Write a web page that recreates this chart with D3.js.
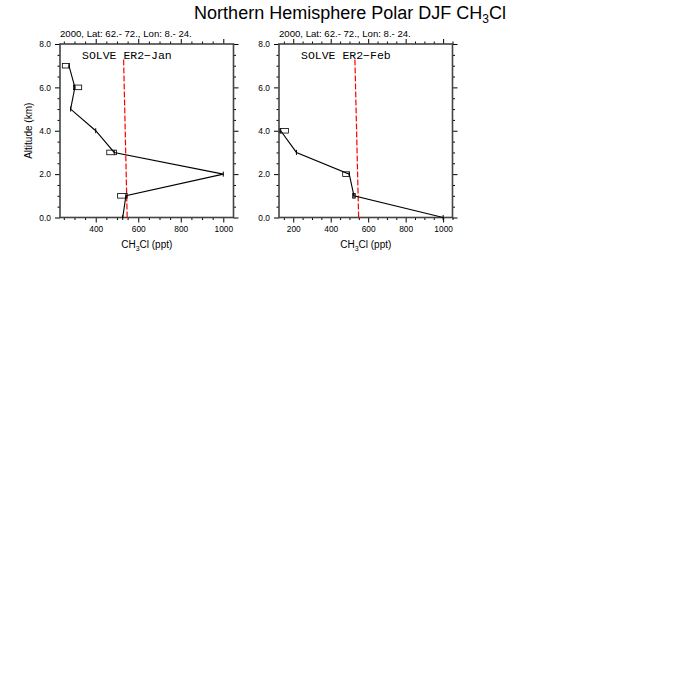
<!DOCTYPE html>
<html>
<head>
<meta charset="utf-8">
<script src="https://cdn.jsdelivr.net/npm/d3@7"></script>
<style>
  html, body { margin: 0; padding: 0; background: #fff; }
  svg { display: block; }
  text { font-family: "Liberation Sans", Helvetica, Arial, sans-serif; fill: #000; }
</style>
</head>
<body>
<svg id="chart" width="700" height="700"></svg>
<script>
// ---------- data ----------
const chartTitle = "Northern Hemisphere Polar DJF CH";
const subTitle = "2000, Lat: 62.- 72., Lon: 8.- 24.";
const panelNames = ["SOLVE ER2\u2212Jan", "SOLVE ER2\u2212Feb"];

// observed mean profiles (altitude km, CH3Cl ppt)
const janAlt  = [0, 1, 2, 3, 4, 5, 6, 7];
const janMean = [527, 542, 1000, 487, 400, 282, 302, 274];
const febAlt  = [0, 1, 2, 3, 4];
const febMean = [1000, 524, 499, 217, 133];

// box ranges
const janBoxAlt = [1, 3, 6, 7];
const janBoxLo  = [503, 452, 295, 243];
const janBoxHi  = [548, 498, 334, 276];
const febBoxAlt = [1, 2, 4];
const febBoxLo  = [517, 464, 129];
const febBoxHi  = [531, 499, 174];

// model profiles (red dashed)
const modelAlt = [0, 7.34];
const janModel = [548, 531];
const febModel = [549, 529];

// axes
const janXDomain = [232, 1048];
const febXDomain = [124, 1050];
const janXTicks = [400, 600, 800, 1000];
const febXTicks = [200, 400, 600, 800, 1000];
const yDomain = [0, 8];
const yTicks = [0, 2, 4, 6, 8];

// ---------- drawing ----------
const svg = d3.select("#chart");

// main title with subscript
const t = svg.append("text")
  .attr("x", 350).attr("y", 19)
  .attr("text-anchor", "middle")
  .style("font-size", "18px");
t.append("tspan").text(chartTitle);
t.append("tspan").attr("dy", 4).style("font-size", "12px").text("3");
t.append("tspan").attr("dy", -4).text("Cl");

const panels = [
  { left: 60,  name: panelNames[0], alt: janAlt, mean: janMean,
    boxAlt: janBoxAlt, boxLo: janBoxLo, boxHi: janBoxHi,
    model: janModel, xDomain: janXDomain, xTicks: janXTicks, yLabel: true },
  { left: 279, name: panelNames[1], alt: febAlt, mean: febMean,
    boxAlt: febBoxAlt, boxLo: febBoxLo, boxHi: febBoxHi,
    model: febModel, xDomain: febXDomain, xTicks: febXTicks, yLabel: false }
];

const W = 173.5, H = 173.5, TOP = 44;

panels.forEach(p => {
  const g = svg.append("g").attr("transform", `translate(${p.left},${TOP})`);
  const x = d3.scaleLinear().domain(p.xDomain).range([0, W]);
  const y = d3.scaleLinear().domain(yDomain).range([H, 0]);

  const xMinor = d3.range(Math.ceil(p.xDomain[0] / 50) * 50, p.xDomain[1] + 0.001, 50)
    .filter(v => v % 200 !== 0);
  const yMinor = d3.range(0.5, 8, 0.5).filter(v => v % 2 !== 0);

  const axStyle = sel => {
    sel.select(".domain").remove();
    sel.selectAll("line").attr("stroke", "#000").attr("stroke-width", 1);
    sel.selectAll("text").style("font-size", "8.4px")
      .style("font-family", "'Liberation Sans', Helvetica, Arial, sans-serif");
  };

  // bottom
  g.append("g").attr("transform", `translate(0,${H})`)
    .call(d3.axisBottom(x).tickValues(p.xTicks).tickSize(5).tickPadding(4).tickFormat(d3.format("d")))
    .call(axStyle);
  g.append("g").attr("transform", `translate(0,${H})`)
    .call(d3.axisBottom(x).tickValues(xMinor).tickSize(2.5).tickFormat(""))
    .call(axStyle);
  // top
  g.append("g")
    .call(d3.axisTop(x).tickValues(p.xTicks).tickSize(5).tickFormat(""))
    .call(axStyle);
  g.append("g")
    .call(d3.axisTop(x).tickValues(xMinor).tickSize(2.5).tickFormat(""))
    .call(axStyle);
  // left
  g.append("g")
    .call(d3.axisLeft(y).tickValues(yTicks).tickSize(5).tickPadding(4).tickFormat(d3.format(".1f")))
    .call(axStyle);
  g.append("g")
    .call(d3.axisLeft(y).tickValues(yMinor).tickSize(2.5).tickFormat(""))
    .call(axStyle);
  // right
  g.append("g").attr("transform", `translate(${W},0)`)
    .call(d3.axisRight(y).tickValues(yTicks).tickSize(5).tickFormat(""))
    .call(axStyle);
  g.append("g").attr("transform", `translate(${W},0)`)
    .call(d3.axisRight(y).tickValues(yMinor).tickSize(2.5).tickFormat(""))
    .call(axStyle);

  // frame
  g.append("rect").attr("x", 0).attr("y", 0).attr("width", W).attr("height", H)
    .attr("fill", "none").attr("stroke", "#444").attr("stroke-width", 1.6);

  // model (red dashed)
  const line = d3.line().x(d => x(d[0])).y(d => y(d[1]));
  g.append("path")
    .datum(p.model.map((v, i) => [v, modelAlt[i]]))
    .attr("d", line)
    .attr("fill", "none").attr("stroke", "#ff0000").attr("stroke-width", 1.2)
    .attr("stroke-dasharray", "6,2");

  // observed mean profile
  const pts = p.mean.map((v, i) => [v, p.alt[i]]);
  g.append("path").datum(pts).attr("d", line)
    .attr("fill", "none").attr("stroke", "#000").attr("stroke-width", 1.1);
  g.selectAll(".cap").data(pts).enter().append("line")
    .attr("x1", d => x(d[0])).attr("x2", d => x(d[0]))
    .attr("y1", d => y(d[1]) - 2.5).attr("y2", d => y(d[1]) + 2.5)
    .attr("stroke", "#000").attr("stroke-width", 1);

  // boxes
  g.selectAll(".box").data(p.boxAlt).enter().append("rect")
    .attr("x", (d, i) => x(p.boxLo[i]))
    .attr("width", (d, i) => x(p.boxHi[i]) - x(p.boxLo[i]))
    .attr("y", d => y(d) - 2.3).attr("height", 4.6)
    .attr("fill", "none").attr("stroke", "#000").attr("stroke-width", 0.8);

  // panel label
  g.append("text").attr("x", 22).attr("y", 15)
    .style("font-family", "'Liberation Mono', 'Courier New', monospace")
    .style("font-size", "11.5px")
    .text(p.name);

  // subtitle
  g.append("text").attr("x", 0).attr("y", -7.5)
    .style("font-size", "9.6px").text(subTitle);

  // x axis title
  const xt = g.append("text").attr("x", W / 2).attr("y", H + 30.5)
    .attr("text-anchor", "middle").style("font-size", "10px");
  xt.append("tspan").text("CH");
  xt.append("tspan").attr("dy", 2.5).style("font-size", "7px").text("3");
  xt.append("tspan").attr("dy", -2.5).text("Cl (ppt)");

  if (p.yLabel) {
    g.append("text")
      .attr("transform", `translate(-28,${H / 2}) rotate(-90)`)
      .attr("text-anchor", "middle").style("font-size", "10px")
      .text("Altitude (km)");
  }
});
</script>
</body>
</html>
